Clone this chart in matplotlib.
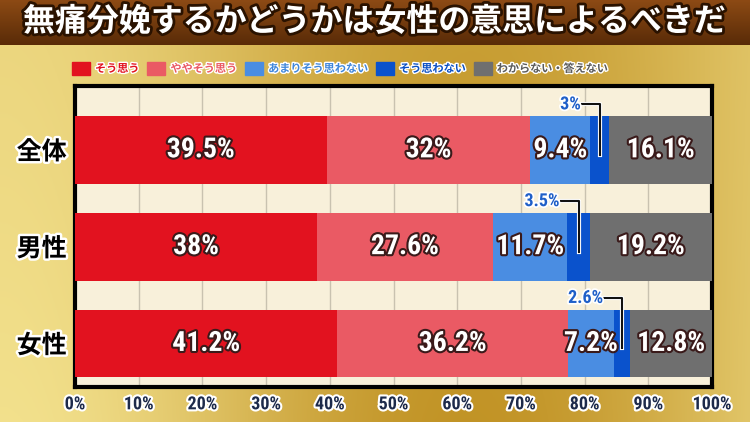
import numpy as np
import matplotlib
matplotlib.use('Agg')
import matplotlib.pyplot as plt
import matplotlib.patheffects as pe
from matplotlib.patches import Rectangle

plt.rcParams['font.family'] = ['Noto Sans CJK JP', 'DejaVu Sans']

title = '無痛分娩するかどうかは女性の意思によるべきだ'
groups = ['全体', '男性', '女性']
answers = ['そう思う', 'ややそう思う', 'あまりそう思わない', 'そう思わない', 'わからない・答えない']
agree = [39.5, 38, 41.2]
somewhat_agree = [32, 27.6, 36.2]
somewhat_disagree = [9.4, 11.7, 7.2]
disagree = [3, 3.5, 2.6]
dont_know = [16.1, 19.2, 12.8]
ticks = [0, 10, 20, 30, 40, 50, 60, 70, 80, 90, 100]

colors = ['#E2121F', '#EA5A64', '#4A8DE2', '#0A52CC', '#6F6F6F']
text_colors = ['#E2121F', '#EA5A64', '#3F86DB', '#0A4FC4', '#5A5A5A']
num_font = ['Roboto Condensed', 'DejaVu Sans']

fig = plt.figure(figsize=(7.5, 4.22), dpi=100)

# background gradients
bg = fig.add_axes([0, 0, 1, 1], zorder=-10)
bg.set_axis_off()
xx = np.linspace(0, 1, 300)
yy = np.linspace(0, 1, 200)
X, Y = np.meshgrid(xx, yy)
gold_a = np.array([0.76, 0.58, 0.15])
gold_b = np.array([0.95, 0.88, 0.55])
t = 0.5 + 0.5 * np.cos(X * 5.0) * (1 - Y * 0.3)
img = gold_a[None, None, :] * (1 - t[..., None]) + gold_b[None, None, :] * t[..., None]
bg.imshow(img, extent=[0, 1, 0, 1], aspect='auto', origin='lower')
top = np.linspace(0, 1, 50)[:, None, None]
brown = np.array([0.35, 0.17, 0.03]) * (1 - top) + np.array([0.55, 0.29, 0.08]) * top
brown = np.repeat(brown, 10, axis=1)
bg.imshow(brown, extent=[0, 1, 1 - 45 / 422, 1], aspect='auto', origin='lower')
bg.set_xlim(0, 1)
bg.set_ylim(0, 1)

fig.text(0.5, 1 - 22 / 422, title, ha='center', va='center', fontsize=23,
         fontweight='bold', color='white',
         path_effects=[pe.withStroke(linewidth=4, foreground='#2a1200')])

# legend, laid out left to right
leg_size = 8
char_w = leg_size * 100 / 72
xpos = 72
for i, name in enumerate(answers):
    fig.patches.append(Rectangle((xpos / 750, 1 - 75 / 422), 18 / 750, 13 / 422,
                                 transform=fig.transFigure, color=colors[i]))
    fig.text((xpos + 23) / 750, 1 - 68.5 / 422, name, ha='left', va='center',
             fontsize=leg_size, fontweight='bold', color=text_colors[i],
             path_effects=[pe.withStroke(linewidth=2, foreground='white')])
    xpos += 23 + len(name) * char_w + 8

ax = fig.add_axes([75 / 750, 1 - 387 / 422, 637 / 750, 301 / 422])
ax.set_facecolor('#F8F0DA')
series = [agree, somewhat_agree, somewhat_disagree, disagree, dont_know]
y = np.arange(len(groups))
left = np.zeros(len(groups))
for k, vals in enumerate(series):
    vals = np.array(vals, dtype=float)
    ax.barh(y, vals, left=left, height=0.7, color=colors[k], zorder=3)
    for j, v in enumerate(vals):
        cx = left[j] + v / 2
        if k == 3:
            lx = cx - 3
            ly = y[j] - 0.47
            ax.text(lx, ly, f'{v:g}%', ha='right', va='center', fontsize=13,
                    fontweight='bold', color='#1F5FC8', family=num_font,
                    fontstretch='condensed', zorder=5,
                    path_effects=[pe.withStroke(linewidth=2.5, foreground='white')])
            ax.plot([lx + 0.2, cx, cx], [ly, ly, y[j] + 0.05], color='#111111',
                    lw=1.5, zorder=4,
                    path_effects=[pe.withStroke(linewidth=3, foreground='white')])
        else:
            ax.text(cx, y[j], f'{v:g}%', ha='center', va='center', fontsize=20,
                    fontweight='bold', color='white', family=num_font,
                    fontstretch='condensed', zorder=5,
                    path_effects=[pe.withStroke(linewidth=3, foreground='#3a1a1a')])
    left = left + vals

ax.set_xlim(0, 100)
ax.set_ylim(2.45, -0.66)
ax.set_xticks(ticks)
ax.set_xticklabels([f'{t}%' for t in ticks], fontsize=13, fontweight='bold',
                   color='#1d2a4a', family=num_font, fontstretch='condensed')
for lab in ax.get_xticklabels():
    lab.set_path_effects([pe.withStroke(linewidth=3, foreground='white')])
ax.tick_params(axis='x', length=0, pad=6)
ax.set_yticks(y)
ax.set_yticklabels(groups, fontsize=18, fontweight='bold', color='black')
for lab in ax.get_yticklabels():
    lab.set_path_effects([pe.withStroke(linewidth=3.5, foreground='white')])
ax.tick_params(axis='y', length=0, pad=6)
ax.grid(axis='x', color='#c9c2b0', lw=1, zorder=1)
for s in ax.spines.values():
    s.set_linewidth(3)
    s.set_color('black')

fig.savefig('out.png', dpi=100)
